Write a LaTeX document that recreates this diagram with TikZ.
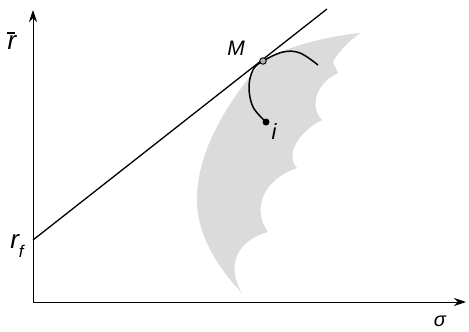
\documentclass[tikz,border=0pt]{standalone}
\usepackage{fontspec}
\setmainfont{Liberation Sans}
\usetikzlibrary{arrows.meta}
\begin{document}
\begin{tikzpicture}[x=1pt,y=-1pt,
  axis/.style={line width=1pt,-{Stealth[length=12pt,width=8pt]}},
  tline/.style={line width=1.3pt},
  lbl/.style={inner sep=0pt},
  dotfill/.style={circle,fill=black,inner sep=0pt,minimum size=7pt},
  dotopen/.style={circle,draw=black,fill=gray!60,line width=0.9pt,inner sep=0pt,minimum size=6.5pt}]
\useasboundingbox (0,0) rectangle (469,332);
% feasible region
\fill[gray!28] (262,62) .. controls (285,46) and (330,36) .. (360,33)
  .. controls (348,42) and (338,52) .. (333,62) -- (338,73)
  .. controls (318,82) and (308,105) .. (322,120)
  .. controls (298,132) and (285,155) .. (297,168)
  .. controls (262,180) and (252,210) .. (268,232)
  .. controls (238,240) and (225,265) .. (242,293)
  .. controls (215,265) and (195,230) .. (197,195)
  .. controls (199,150) and (225,105) .. cycle;
% axes
\coordinate (O) at (33,302);
\coordinate (ytop) at (33,10);
\coordinate (xend) at (466,302);
\draw[axis] (O) -- (ytop);
\draw[axis] (O) -- (xend);
% capital market line
\coordinate (rf) at (33,240);
\coordinate (lend) at (327,9);
\draw[tline] (rf) -- (lend);
% points
\draw[line width=1.5pt] plot[smooth,tension=0.6] coordinates {(266,122) (253,107) (249,87) (253,70) (263,61) (283,52) (300,53) (318,65)};
\node[dotopen] (M) at (263,61) {};
\node[dotfill] (i) at (266,122) {};
% labels
\node[lbl,font=\fontsize{26}{28}\selectfont\itshape] (rbar) at (12,41) {r\llap{\raisebox{0.62em}{\rule{0.3em}{0.06em}}\hspace{0.04em}}};
\node[lbl,font=\fontsize{26}{28}\selectfont\itshape] (rflbl) at (17,246) {r\raisebox{-0.35em}{\fontsize{17}{19}\selectfont f}};
\node[lbl,font=\fontsize{21}{23}\selectfont\itshape] (Mlbl) at (236,48) {M};
\node[lbl,font=\fontsize{22}{24}\selectfont\itshape] (ilbl) at (274,132) {i};
\node[lbl,font=\fontsize{20}{22}\selectfont\itshape] (sig) at (440,321) {σ};
\end{tikzpicture}
\end{document}
